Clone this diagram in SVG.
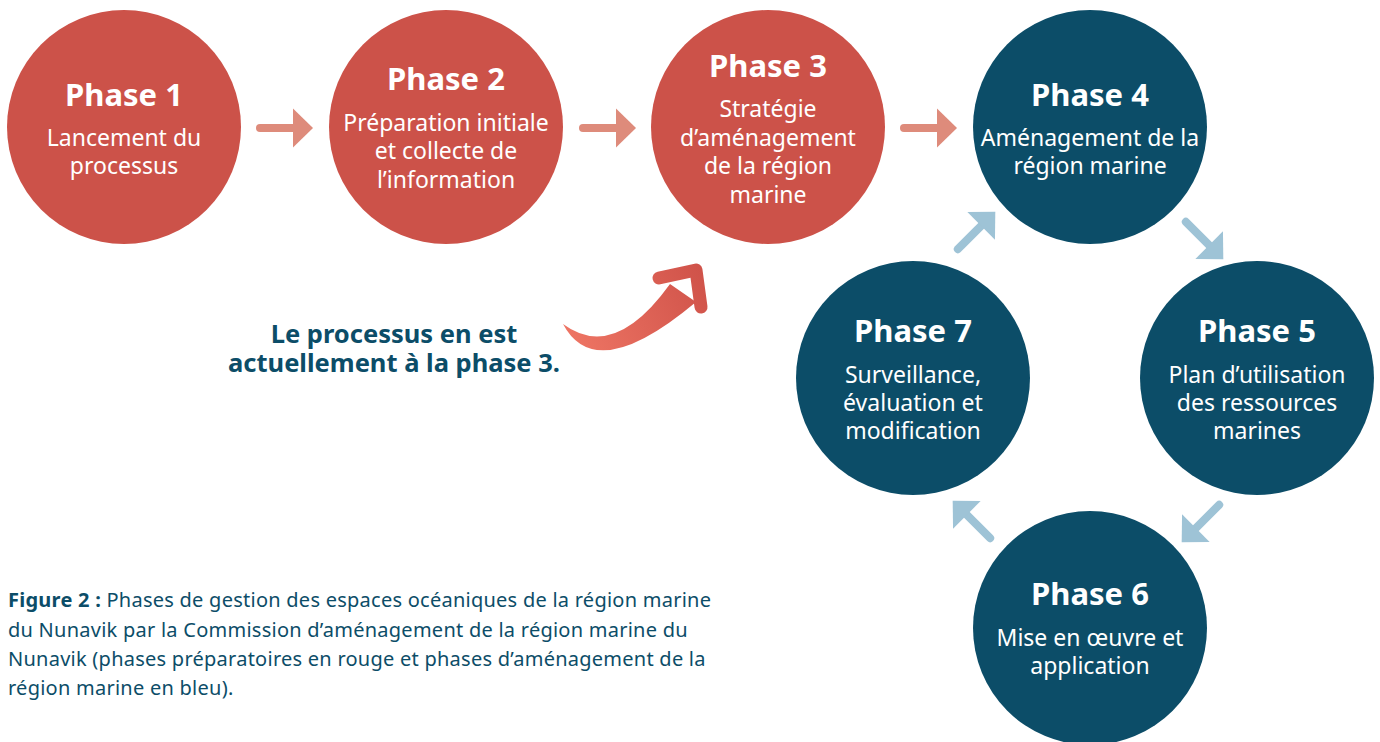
<svg xmlns="http://www.w3.org/2000/svg" width="1380" height="742" viewBox="0 0 1380 742">
<style>
  .red { fill: #CC5249; }
  .blue { fill: #0C4D68; }
  .t { font-family: "Noto Sans", "Open Sans", sans-serif; fill: #FFFFFF; text-anchor: middle; }
  .ttl { font-size: 31px; font-weight: 700; }
  .sub { font-size: 23px; }
  .lbl { font-family: "Noto Sans", "Open Sans", sans-serif; fill: #0C4D68; font-size: 25.5px; font-weight: 700; text-anchor: middle; }
  .cap { font-family: "Noto Sans", "Open Sans", sans-serif; fill: #0C4D68; font-size: 20px; letter-spacing: 0.25px; }
</style>
<defs>
  <g id="arrR">
    <line x1="4" y1="0" x2="38" y2="0" stroke="#DE8B7B" stroke-width="8" stroke-linecap="round"/>
    <polygon points="37,-19.5 57,0 37,19.5" fill="#DE8B7B"/>
  </g>
  <g id="arrB">
    <line x1="4" y1="0" x2="38" y2="0" stroke="#9EC3D6" stroke-width="8" stroke-linecap="round"/>
    <polygon points="37,-19.5 57,0 37,19.5" fill="#9EC3D6"/>
  </g>
  <linearGradient id="curveGrad" x1="570" y1="345" x2="705" y2="280" gradientUnits="userSpaceOnUse">
    <stop offset="0" stop-color="#EE7564"/>
    <stop offset="1" stop-color="#D0534A"/>
  </linearGradient>
</defs>

<g id="connectors">
  <use href="#arrR" x="256" y="128"/>
  <use href="#arrR" x="579" y="128"/>
  <use href="#arrR" x="900" y="128"/>
  <use href="#arrB" transform="translate(955,252) rotate(-45)"/>
  <use href="#arrB" transform="translate(1183,219) rotate(45)"/>
  <use href="#arrB" transform="translate(1222,502) rotate(135)"/>
  <use href="#arrB" transform="translate(993,541) rotate(-135)"/>
  <g id="current-arrow">
    <path d="M563,324 Q614,362 670,284 L696,302 Q596,386 563,324 Z" fill="url(#curveGrad)"/>
    <polyline points="659,278 696,270 701,307" fill="none" stroke="url(#curveGrad)" stroke-width="13" stroke-linecap="round" stroke-linejoin="round"/>
  </g>
</g>

<g id="phase1">
  <circle class="red" cx="124" cy="127" r="117"/>
  <text class="t ttl" x="124" y="106">Phase 1</text>
  <text class="t sub" x="124" y="146">Lancement du</text>
  <text class="t sub" x="124" y="174">processus</text>
</g>
<g id="phase2">
  <circle class="red" cx="446" cy="127" r="117"/>
  <text class="t ttl" x="446" y="90">Phase 2</text>
  <text class="t sub" x="446" y="131">Préparation initiale</text>
  <text class="t sub" x="446" y="159">et collecte de</text>
  <text class="t sub" x="446" y="188">l’information</text>
</g>
<g id="phase3">
  <circle class="red" cx="768" cy="127" r="117"/>
  <text class="t ttl" x="768" y="77">Phase 3</text>
  <text class="t sub" x="768" y="117">Stratégie</text>
  <text class="t sub" x="768" y="146">d’aménagement</text>
  <text class="t sub" x="768" y="174">de la région</text>
  <text class="t sub" x="768" y="203">marine</text>
</g>
<g id="phase4">
  <circle class="blue" cx="1090" cy="127" r="117"/>
  <text class="t ttl" x="1090" y="106">Phase 4</text>
  <text class="t sub" x="1090" y="146">Aménagement de la</text>
  <text class="t sub" x="1090" y="174">région marine</text>
</g>
<g id="phase5">
  <circle class="blue" cx="1257" cy="378" r="117"/>
  <text class="t ttl" x="1257" y="342">Phase 5</text>
  <text class="t sub" x="1257" y="383">Plan d’utilisation</text>
  <text class="t sub" x="1257" y="411">des ressources</text>
  <text class="t sub" x="1257" y="439">marines</text>
</g>
<g id="phase6">
  <circle class="blue" cx="1090" cy="628" r="117"/>
  <text class="t ttl" x="1090" y="605">Phase 6</text>
  <text class="t sub" x="1090" y="646">Mise en œuvre et</text>
  <text class="t sub" x="1090" y="674">application</text>
</g>
<g id="phase7">
  <circle class="blue" cx="913" cy="378" r="117"/>
  <text class="t ttl" x="913" y="342">Phase 7</text>
  <text class="t sub" x="913" y="383">Surveillance,</text>
  <text class="t sub" x="913" y="411">évaluation et</text>
  <text class="t sub" x="913" y="439">modification</text>
</g>

<g id="status-label">
  <text class="lbl" x="394" y="343">Le processus en est</text>
  <text class="lbl" x="394" y="372">actuellement à la phase 3.</text>
</g>

<g id="caption">
  <text class="cap" x="8" y="607"><tspan font-weight="700">Figure 2 :</tspan> Phases de gestion des espaces océaniques de la région marine</text>
  <text class="cap" x="8" y="637">du Nunavik par la Commission d’aménagement de la région marine du</text>
  <text class="cap" x="8" y="666">Nunavik (phases préparatoires en rouge et phases d’aménagement de la</text>
  <text class="cap" x="8" y="695">région marine en bleu).</text>
</g>
</svg>
